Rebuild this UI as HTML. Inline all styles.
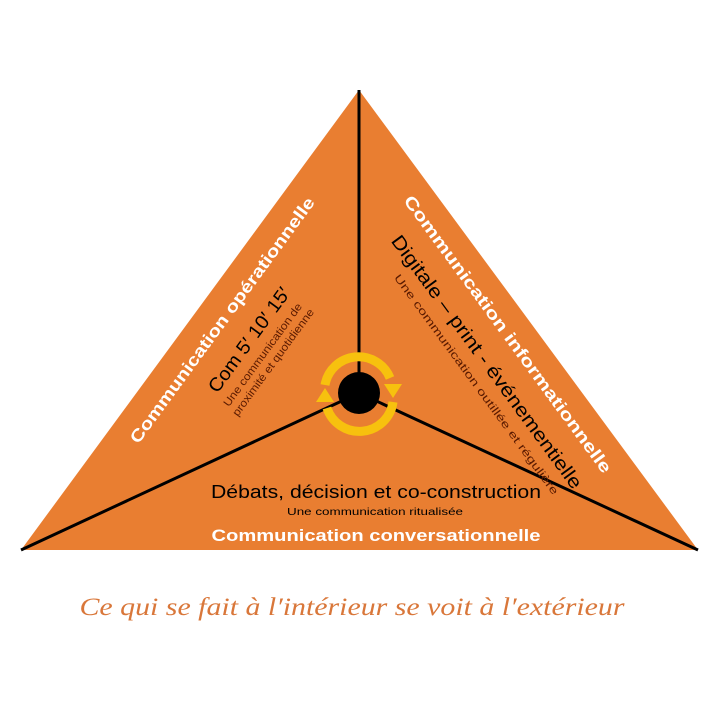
<!DOCTYPE html>
<html><head><meta charset="utf-8"><style>html,body{margin:0;padding:0;background:#fff}svg{display:block}</style></head>
<body>
<svg width="720" height="720" viewBox="0 0 720 720" xmlns="http://www.w3.org/2000/svg" font-family="Liberation Sans, DejaVu Sans, sans-serif">
<polygon points="359,90 21,550 698,550" fill="#E97E31"/>
<g stroke="#000" stroke-width="3" fill="none">
<line x1="359" y1="90" x2="359" y2="393"/>
<line x1="359" y1="393" x2="21" y2="550"/>
<line x1="359" y1="393" x2="698" y2="550"/>
</g>
<path d="M325,385 A34,34 0 0 1 390,378" fill="none" stroke="#F7C10E" stroke-width="9"/>
<path d="M393,402 A34,34 0 0 1 327,408" fill="none" stroke="#F7C10E" stroke-width="9"/>
<polygon points="384,384 402,384 393,398" fill="#F7C10E"/>
<polygon points="316,402 334,402 325,388" fill="#F7C10E"/>
<circle cx="359" cy="393" r="21" fill="#000"/>
<g transform="translate(222,320) rotate(-53.8)" text-anchor="middle">
<text x="0" y="6" fill="#fff" font-weight="bold" font-size="17" textLength="300" lengthAdjust="spacingAndGlyphs">Communication opérationnelle</text>
<text x="0" y="40" fill="#000" font-size="19" textLength="125" lengthAdjust="spacingAndGlyphs">Com 5′ 10′ 15′</text>
<text x="-4" y="57" fill="#5a1a00" font-size="11" textLength="125" lengthAdjust="spacingAndGlyphs">Une communication de</text>
<text x="-4" y="70" fill="#5a1a00" font-size="11" textLength="130" lengthAdjust="spacingAndGlyphs">proximité et quotidienne</text>
</g>
<g transform="translate(508,334) rotate(53.8)" text-anchor="middle">
<text x="0" y="6" fill="#fff" font-weight="bold" font-size="17" textLength="339" lengthAdjust="spacingAndGlyphs">Communication informationnelle</text>
<text x="10" y="40" fill="#000" font-size="19" textLength="309" lengthAdjust="spacingAndGlyphs">Digitale – print - événementielle</text>
<text x="22" y="59" fill="#5a1a00" font-size="11" textLength="270" lengthAdjust="spacingAndGlyphs">Une communication outillée et régulière</text>
</g>
<g text-anchor="middle">
<text x="376" y="498" fill="#000" font-size="18" textLength="330" lengthAdjust="spacingAndGlyphs">Débats, décision et co-construction</text>
<text x="375" y="515" fill="#000" font-size="10" textLength="176" lengthAdjust="spacingAndGlyphs">Une communication ritualisée</text>
<text x="376" y="541" fill="#fff" font-weight="bold" font-size="17" textLength="329" lengthAdjust="spacingAndGlyphs">Communication conversationnelle</text>
</g>
<text x="352" y="615" text-anchor="middle" fill="#D9773A" font-family="Liberation Serif, serif" font-style="italic" font-size="25" textLength="545" lengthAdjust="spacingAndGlyphs">Ce qui se fait à l′intérieur se voit à l′extérieur</text>
</svg>
</body></html>
